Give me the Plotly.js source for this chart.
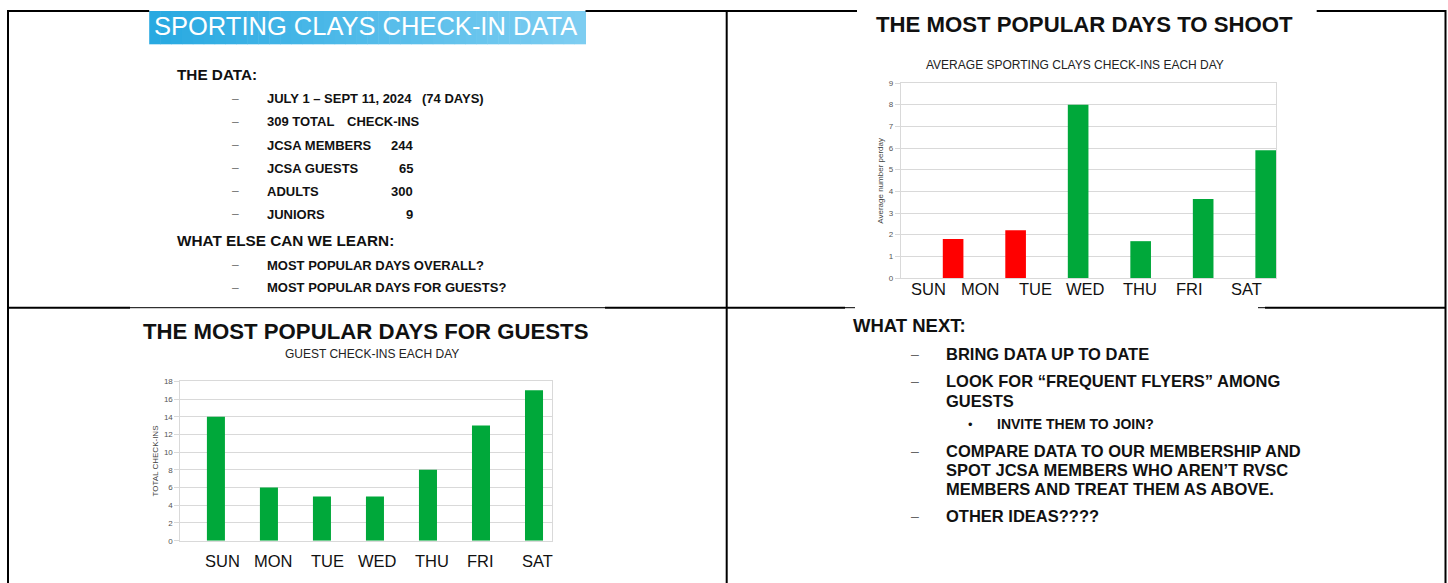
<!DOCTYPE html>
<html>
<head>
<meta charset="utf-8">
<script src="https://cdn.plot.ly/plotly-3.0.1.min.js"></script>
<style>
html,body{margin:0;padding:0;background:#fff;}
#chart{width:1448px;height:583px;}
</style>
</head>
<body>
<div id="chart"></div>
<script>
// ---------------- DATA ----------------
// Top-right chart: average sporting clays check-ins each day
const shootDays = ["MON", "TUE", "WED", "THU", "FRI", "SAT"];
const shootAvg = [1.8, 2.2, 8.0, 1.7, 3.65, 5.9];
// Bottom-left chart: guest check-ins each day
const guestDays = ["SUN", "MON", "TUE", "WED", "THU", "FRI", "SAT"];
const guestCheckins = [14, 6, 5, 5, 8, 13, 17];
// Day labels typed under the charts
const dayLabels = ["SUN", "MON", "TUE", "WED", "THU", "FRI", "SAT"];

// Slide texts
const slide1Title = "SPORTING CLAYS CHECK-IN DATA";
const dataFacts = ["JULY 1 – SEPT 11, 2024", "309 TOTAL", "JCSA MEMBERS", "JCSA GUESTS", "ADULTS", "JUNIORS"];
const dataFactExtras = ["(74 DAYS)", "CHECK-INS", "", "", "", ""];
const dataFactNumbers = ["", "", "244", "65", "300", "9"];
const learnItems = ["MOST POPULAR DAYS OVERALL?", "MOST POPULAR DAYS FOR GUESTS?"];
const nextLines = [
  "BRING DATA UP TO DATE",
  "LOOK FOR “FREQUENT FLYERS” AMONG",
  "GUESTS",
  "COMPARE DATA TO OUR MEMBERSHIP AND",
  "SPOT JCSA MEMBERS WHO AREN’T RVSC",
  "MEMBERS AND TREAT THEM AS ABOVE.",
  "OTHER IDEAS????"
];

// ---------------- STYLE ----------------
const W = 1448, H = 583;
const px = x => x / W;
const py = y => 1 - y / H;
const FONT = "Liberation Sans, Arial, sans-serif";
const GREEN = "#00a83a", RED = "#ff0000";
const shootColors = [RED, RED, GREEN, GREEN, GREEN, GREEN];
const GRID = "#d9d9d9";
const PAD = 2.5; // annotation box inner padding compensation

const annotations = [];
function ann(text, x, y, size, o) {
  o = o || {};
  const xa = o.xanchor || "left";
  const xx = xa === "left" ? x - PAD : (xa === "right" ? x + PAD : x);
  annotations.push({
    text: text, x: px(xx), y: py(y), xref: "paper", yref: "paper",
    xanchor: xa, yanchor: "middle", showarrow: false,
    textangle: o.angle || 0,
    font: {family: FONT, size: size, color: o.color || "#111"}
  });
}

// Slide 1
ann(slide1Title, 365.5, 26, 25.5, {xanchor: "center", color: "#ffffff"});
ann("<b>THE DATA:</b>", 177.6, 74, 15.3);
const factY = [99, 122, 145, 168.3, 191.3, 214.3];
const extraX = [422.4, 347.3];
dataFacts.forEach((t, i) => {
  ann("–", 235.5, factY[i], 12, {xanchor: "center", color: "#777"});
  ann("<b>" + t + "</b>", 267.1, factY[i], 13);
  if (dataFactExtras[i]) ann("<b>" + dataFactExtras[i] + "</b>", extraX[i], factY[i], 13);
  if (dataFactNumbers[i]) ann("<b>" + dataFactNumbers[i] + "</b>", 412, factY[i], 13, {xanchor: "right"});
});
ann("<b>WHAT ELSE CAN WE LEARN:</b>", 177.6, 240.3, 15.3);
const learnY = [265, 287.7];
learnItems.forEach((t, i) => {
  ann("–", 235.5, learnY[i], 12, {xanchor: "center", color: "#777"});
  ann("<b>" + t + "</b>", 267.1, learnY[i], 13);
});

// Slide 2
ann("<b>THE MOST POPULAR DAYS TO SHOOT</b>", 1084.3, 24.3, 22.2, {xanchor: "center"});
ann("AVERAGE SPORTING CLAYS CHECK-INS EACH DAY", 1074.7, 64.7, 12, {xanchor: "center", color: "#222"});
ann("Average number perday", 881, 180.7, 8, {xanchor: "center", angle: -90, color: "#444"});
const shootLabelX = [929, 980, 1035, 1085, 1140, 1189, 1246];
dayLabels.forEach((d, i) => ann(d, shootLabelX[i], 288.7, 16.5, {xanchor: "center"}));

// Slide 3
ann("<b>THE MOST POPULAR DAYS FOR GUESTS</b>", 365.5, 331, 22.2, {xanchor: "center"});
ann("GUEST CHECK-INS EACH DAY", 371.6, 354, 12, {xanchor: "center", color: "#222"});
ann("TOTAL CHECK-INS", 155.2, 461.3, 8, {xanchor: "center", angle: -90, color: "#444"});
const guestLabelX = [222.4, 273, 327.5, 377.4, 431.5, 480.7, 537];
dayLabels.forEach((d, i) => ann(d, guestLabelX[i], 561, 16.5, {xanchor: "center"}));

// Slide 4
ann("<b>WHAT NEXT:</b>", 853, 325.7, 18.5);
const nextY = [353.7, 381, 400.7, 451, 469.7, 488.7, 515.7];
const nextDash = [true, true, false, true, false, false, true];
nextLines.forEach((t, i) => {
  if (nextDash[i]) ann("–", 915, nextY[i], 14, {xanchor: "center", color: "#666"});
  ann("<b>" + t + "</b>", 946.8, nextY[i], 16.5);
});
ann("•", 970, 424.3, 13, {xanchor: "center"});
ann("<b>INVITE THEM TO JOIN?</b>", 997, 424.3, 14);

// ---------------- SHAPES ----------------
const shapes = [];
function line(x0, y0, x1, y1, w) {
  shapes.push({type: "line", xref: "paper", yref: "paper", x0: px(x0), y0: py(y0), x1: px(x1), y1: py(y1),
    line: {color: "#000", width: w}});
}
// gradient title box
const bx0 = 149.2, bx1 = 585.5, N = 40;
const c0 = [40, 169, 225], c1 = [125, 205, 241];
for (let i = 0; i < N; i++) {
  const t = i / (N - 1);
  const c = c0.map((v, k) => Math.round(v + (c1[k] - v) * t));
  shapes.push({type: "rect", xref: "paper", yref: "paper", layer: "below",
    x0: px(bx0 + (bx1 - bx0) * i / N), x1: px(bx0 + (bx1 - bx0) * (i + 1) / N + 0.5),
    y0: py(44.3), y1: py(11), line: {width: 0}, fillcolor: "rgb(" + c.join(",") + ")"});
}
// borders
line(8, 11, 149.2, 11, 2);
line(585.5, 11, 857, 11, 2);
line(1316.7, 11, 1446, 11, 2);
line(8, 10, 8, 583, 2);
line(726.7, 10, 726.7, 583, 2);
line(1445.5, 10, 1445.5, 583, 2);
line(8, 307.7, 130, 307.7, 2);
line(130, 307.7, 605, 307.7, 1);
line(605, 307.7, 845, 307.7, 2);
line(845, 307.7, 855, 307.7, 1);
line(1258, 307.7, 1265, 307.7, 1);
line(1265, 307.7, 1446, 307.7, 2);

// ---------------- TRACES ----------------
const traces = [
  {type: "bar", x: shootDays, y: shootAvg, xaxis: "x", yaxis: "y",
   marker: {color: shootColors, line: {width: 0}}, offset: 0.17, width: 0.33, hoverinfo: "skip"},
  {type: "bar", x: guestDays, y: guestCheckins, xaxis: "x2", yaxis: "y2",
   marker: {color: GREEN, line: {width: 0}}, offset: 0.0, width: 0.34, hoverinfo: "skip"}
];

const xBase = {type: "category", showticklabels: false, ticks: "", showgrid: false, zeroline: false,
  showline: true, mirror: true, linecolor: GRID, linewidth: 1, fixedrange: true};
const yBase = {showgrid: true, gridcolor: GRID, gridwidth: 1, zeroline: false, showline: true, mirror: true,
  linecolor: GRID, linewidth: 1, ticks: "outside", ticklen: 5, tickcolor: GRID,
  tickfont: {family: FONT, size: 8, color: "#555"}, fixedrange: true};

const layout = {
  width: W, height: H, margin: {l: 0, r: 0, t: 0, b: 0, pad: 0},
  paper_bgcolor: "#fff", plot_bgcolor: "rgba(0,0,0,0)", showlegend: false,
  font: {family: FONT},
  xaxis: Object.assign({}, xBase, {domain: [px(900.9), px(1276)], anchor: "y"}),
  yaxis: Object.assign({}, yBase, {domain: [py(278), py(83)], anchor: "x", range: [0, 9], dtick: 1, tick0: 0}),
  xaxis2: Object.assign({}, xBase, {domain: [px(180.4), px(551.5)], anchor: "y2"}),
  yaxis2: Object.assign({}, yBase, {domain: [py(540.7), py(381.3)], anchor: "x2", range: [0, 18], dtick: 2, tick0: 0}),
  annotations: annotations,
  shapes: shapes
};

Plotly.newPlot("chart", traces, layout, {staticPlot: true, displayModeBar: false});
</script>
</body>
</html>
